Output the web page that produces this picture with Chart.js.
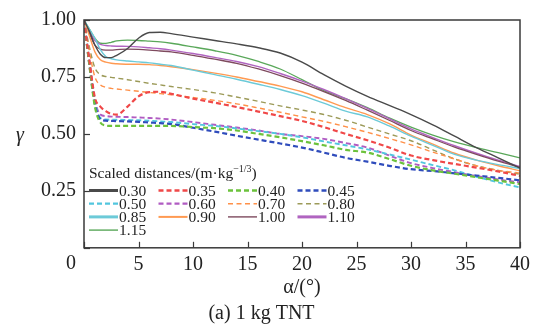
<!DOCTYPE html>
<html>
<head>
<meta charset="utf-8">
<script src="https://cdn.jsdelivr.net/npm/chart.js@4.4.0/dist/chart.umd.min.js"></script>
<style>
html, body { margin: 0; padding: 0; background: #fff; }
</style>
</head>
<body>
<canvas id="gammaChart" width="535" height="328"></canvas>
<script>
// incidence angle (deg)
const angles = [0, 0.5, 1, 1.5, 2, 2.5, 3, 4, 5, 6, 7, 8, 10, 12, 14, 16, 18, 20, 22, 24, 26, 28, 30, 32, 34, 36, 38, 40];

// gamma for each scaled distance
const g030 = [1.0, 0.95, 0.89, 0.85, 0.835, 0.835, 0.845, 0.875, 0.92, 0.945, 0.946, 0.94, 0.925, 0.91, 0.895, 0.878, 0.855, 0.815, 0.76, 0.71, 0.665, 0.625, 0.585, 0.54, 0.49, 0.44, 0.395, 0.35];
const g035 = [1.0, 0.82, 0.66, 0.62, 0.6, 0.588, 0.585, 0.62, 0.665, 0.683, 0.685, 0.676, 0.655, 0.637, 0.618, 0.598, 0.578, 0.557, 0.53, 0.5, 0.472, 0.44, 0.405, 0.385, 0.368, 0.352, 0.335, 0.316];
const g040 = [1.0, 0.8, 0.62, 0.55, 0.537, 0.535, 0.535, 0.535, 0.535, 0.535, 0.535, 0.535, 0.53, 0.525, 0.515, 0.5, 0.485, 0.468, 0.45, 0.43, 0.418, 0.39, 0.36, 0.34, 0.325, 0.31, 0.295, 0.28];
const g045 = [1.0, 0.8, 0.63, 0.565, 0.558, 0.557, 0.556, 0.555, 0.553, 0.55, 0.547, 0.543, 0.527, 0.51, 0.492, 0.475, 0.458, 0.44, 0.418, 0.395, 0.378, 0.36, 0.345, 0.337, 0.327, 0.317, 0.307, 0.296];
const g050 = [1.0, 0.81, 0.64, 0.57, 0.563, 0.562, 0.562, 0.561, 0.56, 0.558, 0.555, 0.552, 0.543, 0.535, 0.524, 0.512, 0.5, 0.485, 0.467, 0.45, 0.432, 0.41, 0.387, 0.363, 0.34, 0.312, 0.287, 0.265];
const g060 = [1.0, 0.82, 0.65, 0.585, 0.578, 0.576, 0.575, 0.574, 0.572, 0.57, 0.567, 0.563, 0.552, 0.54, 0.528, 0.515, 0.5, 0.49, 0.478, 0.46, 0.44, 0.405, 0.372, 0.35, 0.332, 0.315, 0.3, 0.287];
const g070 = [1.0, 0.86, 0.75, 0.715, 0.705, 0.7, 0.697, 0.692, 0.687, 0.682, 0.677, 0.672, 0.66, 0.647, 0.632, 0.614, 0.595, 0.575, 0.555, 0.532, 0.507, 0.48, 0.452, 0.42, 0.39, 0.36, 0.34, 0.328];
const g080 = [1.0, 0.88, 0.79, 0.76, 0.752, 0.748, 0.745, 0.738, 0.73, 0.722, 0.715, 0.708, 0.695, 0.68, 0.662, 0.643, 0.623, 0.605, 0.585, 0.56, 0.53, 0.5, 0.47, 0.43, 0.39, 0.36, 0.34, 0.323];
const g085 = [1.0, 0.96, 0.92, 0.87, 0.84, 0.83, 0.825, 0.82, 0.816, 0.812, 0.806, 0.8, 0.78, 0.76, 0.74, 0.718, 0.695, 0.668, 0.635, 0.6, 0.575, 0.535, 0.49, 0.45, 0.41, 0.385, 0.365, 0.348];
const g090 = [1.0, 0.93, 0.86, 0.825, 0.815, 0.81, 0.808, 0.806, 0.806, 0.804, 0.8, 0.795, 0.782, 0.767, 0.75, 0.73, 0.71, 0.685, 0.65, 0.615, 0.585, 0.545, 0.495, 0.455, 0.415, 0.385, 0.36, 0.338];
const g100 = [1.0, 0.94, 0.89, 0.872, 0.868, 0.868, 0.87, 0.872, 0.871, 0.868, 0.864, 0.86, 0.845, 0.828, 0.81, 0.785, 0.756, 0.723, 0.686, 0.647, 0.604, 0.56, 0.515, 0.478, 0.442, 0.41, 0.38, 0.353];
const g110 = [1.0, 0.95, 0.91, 0.893, 0.888, 0.886, 0.885, 0.884, 0.882, 0.878, 0.874, 0.868, 0.853, 0.836, 0.818, 0.795, 0.765, 0.732, 0.695, 0.655, 0.612, 0.567, 0.522, 0.484, 0.448, 0.415, 0.385, 0.357];
const g115 = [1.0, 0.96, 0.92, 0.898, 0.897, 0.902, 0.908, 0.912, 0.91, 0.907, 0.904, 0.898, 0.882, 0.865, 0.845, 0.818, 0.785, 0.738, 0.69, 0.655, 0.615, 0.57, 0.53, 0.495, 0.465, 0.44, 0.418, 0.395];

const distLabels = ['0.30', '0.35', '0.40', '0.45', '0.50', '0.60', '0.70', '0.80', '0.85', '0.90', '1.00', '1.10', '1.15'];
const xTickVals = [0, 5, 10, 15, 20, 25, 30, 35, 40];
const yTickVals = [0, 0.25, 0.5, 0.75, 1.0];

const series = [g030, g035, g040, g045, g050, g060, g070, g080, g085, g090, g100, g110, g115];

// line styles: colour, plot width, dash, legend width
const styles = [
    { c: '#4a4a4a', w: 1.4, d: [],     lw: 3 },
    { c: '#f04848', w: 2.2, d: [5, 3], lw: 2.6 },
    { c: '#6cc23c', w: 2.2, d: [5, 3], lw: 2.6 },
    { c: '#2f4cbc', w: 2.2, d: [5, 3], lw: 2.6 },
    { c: '#52c6de', w: 1.9, d: [5, 3], lw: 2.2 },
    { c: '#b05bc2', w: 1.9, d: [5, 3], lw: 2.2 },
    { c: '#ff9048', w: 1.4, d: [5, 3.5], lw: 1.4 },
    { c: '#9c9a58', w: 1.4, d: [5, 3.5], lw: 1.4 },
    { c: '#6ccad8', w: 1.4, d: [],     lw: 3 },
    { c: '#ff9a52', w: 1.4, d: [],     lw: 2 },
    { c: '#7e4a5e', w: 1.3, d: [],     lw: 1.4 },
    { c: '#b064c0', w: 1.4, d: [],     lw: 3 },
    { c: '#5aa85a', w: 1.3, d: [],     lw: 1.4 }
];

const serif = 'Liberation Serif';
Chart.defaults.font.family = serif;
Chart.defaults.color = '#222';

const datasets = series.map(function(vals, i) {
    return {
        label: distLabels[i],
        data: angles.map(function(a, k) { return { x: a, y: vals[k] }; }),
        borderColor: styles[i].c,
        borderWidth: styles[i].w,
        borderDash: styles[i].d,
        pointRadius: 0,
        fill: false,
        cubicInterpolationMode: 'monotone'
    };
});

// frame, inward ticks, origin label, gamma label and the legend
const decorPlugin = {
    id: 'decor',
    afterDraw: function(chart) {
        const ctx = chart.ctx;
        const a = chart.chartArea;
        const xs = chart.scales.x, ys = chart.scales.y;
        ctx.save();
        ctx.strokeStyle = '#3a3a3a';
        ctx.lineWidth = 1.5;
        ctx.setLineDash([]);
        ctx.strokeRect(a.left, a.top, a.right - a.left, a.bottom - a.top);
        ctx.lineWidth = 1.2;
        xTickVals.forEach(function(v) {
            const px = Math.round(xs.getPixelForValue(v)) + 0.5;
            ctx.beginPath(); ctx.moveTo(px, a.bottom); ctx.lineTo(px, a.bottom - 6); ctx.stroke();
        });
        yTickVals.forEach(function(v) {
            const py = Math.round(ys.getPixelForValue(v)) + 0.5;
            ctx.beginPath(); ctx.moveTo(a.left, py); ctx.lineTo(a.left + 6, py); ctx.stroke();
        });

        ctx.fillStyle = '#222';
        ctx.font = '20px "' + serif + '"';
        ctx.textAlign = 'center';
        ctx.textBaseline = 'middle';
        ctx.fillText('0', a.left - 13, a.bottom + 16);
        ctx.font = 'italic 20px "' + serif + '"';
        ctx.fillText('γ', 20, (a.top + a.bottom) / 2 + 2);

        // legend
        const lx = a.left + 5;
        ctx.textAlign = 'left';
        ctx.textBaseline = 'alphabetic';
        ctx.font = '15.5px "' + serif + '"';
        const t1 = 'Scaled distances/(m·kg';
        ctx.fillText(t1, lx, a.top + 158);
        let tx = lx + ctx.measureText(t1).width;
        ctx.font = '10px "' + serif + '"';
        ctx.fillText('−1/3', tx, a.top + 152);
        tx += ctx.measureText('−1/3').width;
        ctx.font = '15.5px "' + serif + '"';
        ctx.fillText(')', tx, a.top + 158);

        ctx.textBaseline = 'middle';
        ctx.font = '15.5px "' + serif + '"';
        chart.data.datasets.forEach(function(ds, i) {
            const col = i % 4, row = Math.floor(i / 4);
            const x0 = lx + col * 69.5;
            const y0 = a.top + 170.5 + row * 13.2;
            ctx.strokeStyle = ds.borderColor;
            ctx.lineWidth = styles[i].lw;
            ctx.setLineDash(ds.borderDash);
            ctx.beginPath(); ctx.moveTo(x0, y0); ctx.lineTo(x0 + 29, y0); ctx.stroke();
            ctx.fillText(ds.label, x0 + 30, y0 + 1);
        });
        ctx.restore();
    }
};

new Chart(document.getElementById('gammaChart').getContext('2d'), {
    type: 'line',
    data: { datasets: datasets },
    plugins: [decorPlugin],
    options: {
        responsive: false,
        animation: false,
        devicePixelRatio: 1,
        layout: { padding: { top: 20, right: 12, left: 0, bottom: 0 } },
        scales: {
            x: {
                type: 'linear',
                min: 0,
                max: 40,
                grid: { display: false, drawTicks: false },
                border: { display: false },
                ticks: {
                    stepSize: 5,
                    padding: 5,
                    font: { family: serif, size: 20 },
                    callback: function(v) { return v === 0 ? '' : v; }
                },
                title: {
                    display: true,
                    text: 'α/(°)',
                    padding: { top: 0, bottom: 0 },
                    font: { family: serif, size: 20, lineHeight: 1.2 }
                },
                afterFit: function(s) { s.height = 52.2; }
            },
            y: {
                min: 0,
                max: 1,
                grid: { display: false, drawTicks: false },
                border: { display: false },
                ticks: {
                    stepSize: 0.25,
                    padding: 8,
                    font: { family: serif, size: 20 },
                    callback: function(v) { return v === 0 ? '' : v.toFixed(2); }
                },
                afterFit: function(s) { s.width = 84; }
            }
        },
        plugins: {
            legend: { display: false },
            tooltip: { enabled: false },
            title: {
                display: true,
                position: 'bottom',
                text: '(a) 1 kg TNT',
                padding: { top: 2, bottom: 2 },
                font: { family: serif, size: 20, weight: 'normal', lineHeight: 1.2 }
            }
        }
    }
});
</script>
</body>
</html>
